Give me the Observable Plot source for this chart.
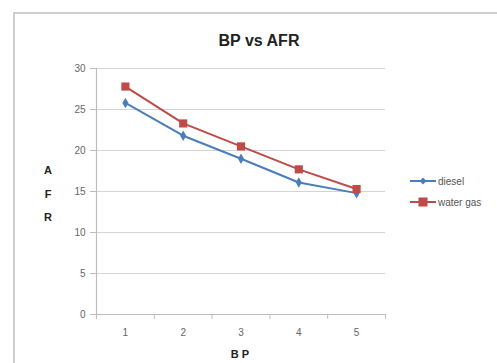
<!DOCTYPE html>
<html>
<head>
<meta charset="utf-8">
<script src="https://cdn.jsdelivr.net/npm/d3@7"></script>
<script src="https://cdn.jsdelivr.net/npm/@observablehq/plot@0.6"></script>
<style>
  html, body { margin: 0; padding: 0; background: #fff; }
  #wrap { position: relative; width: 497px; height: 363px; overflow: hidden; }
  svg { font-family: "Liberation Sans", Arial, sans-serif; }
</style>
</head>
<body>
<div id="wrap"></div>
<script>
const bp = [1, 2, 3, 4, 5];
const diesel = [25.8, 21.8, 19.0, 16.1, 14.8];
const waterGas = [27.8, 23.3, 20.5, 17.7, 15.3];
const yTicks = [0, 5, 10, 15, 20, 25, 30];
const seriesNames = ["diesel", "water gas"];
const colors = ["#4a7ebb", "#be4b48"];

const data = [
  ...bp.map((b, i) => ({bp: b, afr: diesel[i], s: seriesNames[0]})),
  ...bp.map((b, i) => ({bp: b, afr: waterGas[i], s: seriesNames[1]}))
];
const bandEdges = d3.range(bp.length + 1).map(i => bp[0] - 0.5 + i);

const chart = Plot.plot({
  width: 497,
  height: 363,
  marginLeft: 96,
  marginRight: 112,
  marginTop: 68,
  marginBottom: 49,
  style: {fontFamily: "Liberation Sans, Arial, sans-serif", background: "#fff"},
  x: {domain: [bp[0] - 0.5, bp[bp.length - 1] + 0.5], axis: null},
  y: {domain: [0, 30], axis: null},
  color: {domain: seriesNames, range: colors},
  marks: [
    Plot.gridY(yTicks.slice(1), {stroke: "#d4d4d4", strokeOpacity: 1, strokeWidth: 1.2}),
    Plot.axisY(yTicks, {tickSize: 6, tickPadding: 5, stroke: "#bdbdbd", fill: "#666", fontSize: 10, label: null}),
    Plot.axisX(bandEdges, {tickSize: 5, tickFormat: () => "", stroke: "#bdbdbd", label: null}),
    Plot.axisX(bp, {tickSize: 0, tickPadding: 14, fill: "#666", fontSize: 10, label: null}),
    Plot.ruleY([0], {stroke: "#bdbdbd", strokeWidth: 1.2}),
    Plot.ruleX([bandEdges[0]], {stroke: "#bdbdbd", strokeWidth: 1.2}),
    Plot.line(data, {x: "bp", y: "afr", stroke: "s", z: "s", strokeWidth: 2}),
    Plot.dot(data.filter(d => d.s === seriesNames[0]), {x: "bp", y: "afr", symbol: "diamond", fill: colors[0], r: 3.2}),
    Plot.dot(data.filter(d => d.s === seriesNames[1]), {x: "bp", y: "afr", symbol: "square", fill: colors[1], r: 4.6})
  ]
});

document.getElementById("wrap").appendChild(chart);

const svg = d3.select(chart);
// chart border
svg.append("path").attr("d", "M14,363 L14,13 L497,13").attr("fill", "none").attr("stroke", "#cfcfcf").attr("stroke-width", 2);
// title
svg.append("text").attr("x", 259).attr("y", 46).attr("text-anchor", "middle")
  .attr("font-size", 16).attr("font-weight", "bold").attr("fill", "#222").text("BP vs AFR");
// y axis label stacked
["A", "F", "R"].forEach((c, i) => {
  svg.append("text").attr("x", 48).attr("y", 174 + i * 23.5).attr("text-anchor", "middle")
    .attr("font-size", 11).attr("font-weight", "bold").attr("fill", "#222").text(c);
});
// x axis label
svg.append("text").attr("x", 240).attr("y", 358).attr("text-anchor", "middle")
  .attr("font-size", 11).attr("font-weight", "bold").attr("fill", "#222").text("B P");
// legend
const lg = svg.append("g");
seriesNames.forEach((name, i) => {
  const y = 181 + i * 21;
  lg.append("line").attr("x1", 410).attr("x2", 436).attr("y1", y).attr("y2", y)
    .attr("stroke", colors[i]).attr("stroke-width", 2);
  if (i === 0) {
    lg.append("path").attr("d", `M423,${y-3.5}L426.5,${y}L423,${y+3.5}L419.5,${y}Z`).attr("fill", colors[i]);
  } else {
    lg.append("rect").attr("x", 418.5).attr("y", y - 4.5).attr("width", 9).attr("height", 9).attr("fill", colors[i]);
  }
  lg.append("text").attr("x", 438).attr("y", y + 3.5).attr("text-anchor", "start")
    .attr("font-size", 10).attr("fill", "#555").text(name);
});
</script>
</body>
</html>
